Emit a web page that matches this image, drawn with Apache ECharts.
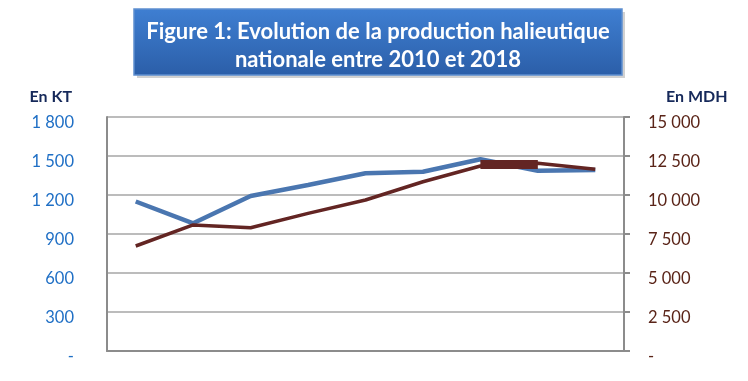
<!DOCTYPE html>
<html>
<head>
<meta charset="utf-8">
<script src="https://cdn.jsdelivr.net/npm/echarts@6/dist/echarts.min.js"></script>
<style>html,body{margin:0;padding:0;background:#fff;}#c{width:748px;height:381px;}</style>
</head>
<body>
<div id="c"></div>
<script>
const years = ['2010','2011','2012','2013','2014','2015','2016','2017','2018'];
const productionKT = [1150, 982, 1192, 1277, 1367, 1379, 1475, 1387, 1392];
const valueMDH = [6730, 8080, 7900, 8820, 9680, 10850, 11860, 12030, 11650];
const valueMDHArtifact = [null, null, null, null, null, null, 11950, 11950, null];
const leftTicks = [0, 300, 600, 900, 1200, 1500, 1800];
const rightTicks = [0, 2500, 5000, 7500, 10000, 12500, 15000];
const titleLines = ['Figure 1: Evolution de la production halieutique', 'nationale entre 2010 et 2018'];

function fmt(v){
  if (v === 0) return '-';
  return String(v).replace(/\B(?=(\d{3})+(?!\d))/g, ' ');
}
const FONT = 'Lato';
const chart = echarts.init(document.getElementById('c'), null, {renderer:'canvas'});
chart.setOption({
  animation:false,
  backgroundColor:'#ffffff',
  grid:{left:107, right:124, top:117, bottom:30, containLabel:false},
  xAxis:{
    type:'category', data:years, boundaryGap:true,
    axisLine:{lineStyle:{color:'#8c8c8c', width:2}},
    axisTick:{show:false}, axisLabel:{show:false}
  },
  yAxis:[
    {type:'value', min:leftTicks[0], max:leftTicks[leftTicks.length-1], interval:300,
     axisLine:{show:true, lineStyle:{color:'#8c8c8c', width:2}},
     axisTick:{show:false},
     splitLine:{show:true, lineStyle:{color:'#a6a6a6', width:1.5}},
     axisLabel:{color:'#1f6fc5', fontFamily:FONT, fontSize:16.5, margin:33, verticalAlign:'top', lineHeight:11, formatter:fmt},
     name:'En KT', nameLocation:'end', nameGap:12,
     nameTextStyle:{color:'#16295a', fontFamily:FONT, fontWeight:'bold', fontSize:16, align:'right', padding:[0,35,0,0]}
    },
    {type:'value', min:rightTicks[0], max:rightTicks[rightTicks.length-1], interval:2500,
     position:'right',
     axisLine:{show:true, lineStyle:{color:'#8c8c8c', width:2}},
     axisTick:{show:true, inside:false, length:6, lineStyle:{color:'#8c8c8c', width:2}},
     splitLine:{show:false},
     axisLabel:{color:'#5a2418', fontFamily:FONT, fontSize:16.5, margin:24, verticalAlign:'top', lineHeight:11, formatter:fmt},
     name:'En MDH', nameLocation:'end', nameGap:12,
     nameTextStyle:{color:'#16295a', fontFamily:FONT, fontWeight:'bold', fontSize:16, align:'left', padding:[0,0,0,42]}
    }
  ],
  series:[
    {name:'Production (KT)', type:'line', yAxisIndex:0, data:productionKT, showSymbol:false,
     lineStyle:{color:'#4a76b0', width:4.5}, z:3},
    {name:'Valeur (MDH)', type:'line', yAxisIndex:1, data:valueMDH, showSymbol:false,
     lineStyle:{color:'#632523', width:3.5}, z:4},
    {name:'Valeur artefact', type:'line', yAxisIndex:1, data:valueMDHArtifact, showSymbol:false,
     lineStyle:{color:'#632523', width:9}, z:4}
  ],
  graphic:[
    {type:'rect', shape:{x:137, y:12, width:488, height:66},
     style:{fill:'rgba(0,0,0,0.18)'}, z:1},
    {type:'rect', shape:{x:134, y:9, width:488, height:66},
     style:{fill:new echarts.graphic.LinearGradient(0,0,0,1,[{offset:0,color:'#3f7fd2'},{offset:1,color:'#2b5ea8'}]),
            stroke:'#5d8fd0', lineWidth:1.5}, z:2},
    {type:'text', x:378, y:32, style:{text:titleLines[0], fill:'#ffffff', font:'bold 22px Lato', textAlign:'center', textVerticalAlign:'middle'}, z:3},
    {type:'text', x:378, y:60, style:{text:titleLines[1], fill:'#ffffff', font:'bold 22px Lato', textAlign:'center', textVerticalAlign:'middle'}, z:3}
  ]
});
</script>
</body>
</html>
